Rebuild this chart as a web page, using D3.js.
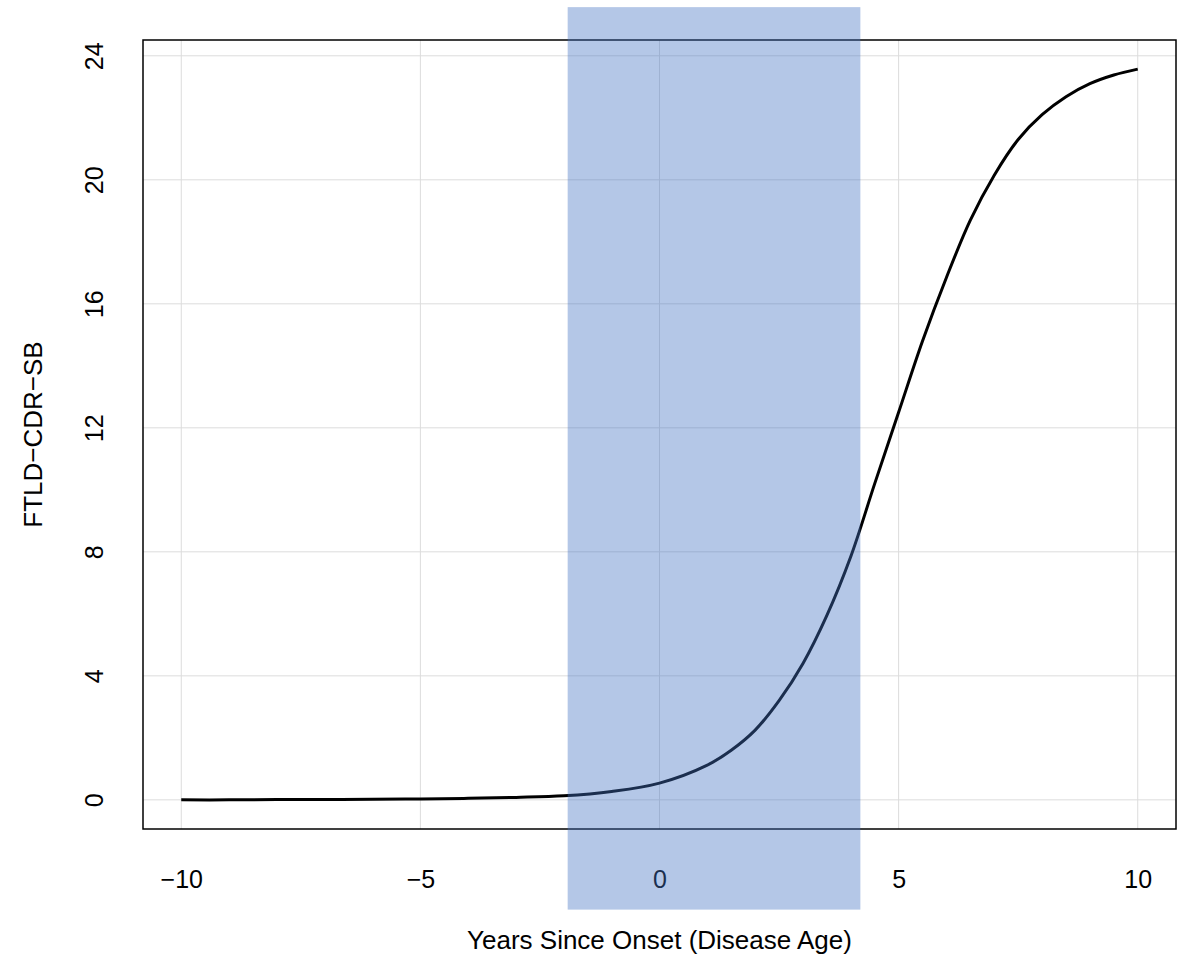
<!DOCTYPE html>
<html>
<head>
<meta charset="utf-8">
<script src="https://cdn.jsdelivr.net/npm/d3@7"></script>
<style>
  html, body { margin: 0; padding: 0; background: #fff; }
  svg { display: block; font-family: "Liberation Sans", Arial, sans-serif; }
</style>
</head>
<body>
<div id="chart"></div>
<script>
// disease age (years) and estimated FTLD-CDR-SB curve
const years = [-10, -9, -8, -7, -6, -5, -4, -3, -2, -1, 0, 1, 1.5, 2, 2.5, 3, 3.5, 4, 4.5, 5, 5.5, 6, 6.5, 7, 7.5, 8, 8.5, 9, 9.5, 10];
const scores = [0, 0, 0.01, 0.01, 0.02, 0.03, 0.05, 0.08, 0.13, 0.27, 0.54, 1.12, 1.6, 2.25, 3.2, 4.4, 5.95, 7.85, 10.2, 12.5, 14.8, 16.85, 18.7, 20.15, 21.3, 22.1, 22.68, 23.1, 23.38, 23.57];
const xTicks = [-10, -5, 0, 5, 10];
const yTicks = [0, 4, 8, 12, 16, 20, 24];
// shaded band (data units, drawn past the plot box)
const bandX = [-1.92, 4.2];
const bandY = [-3.54, 25.57];

const W = 1189, H = 956;
const box = { left: 143, right: 1176, top: 40, bottom: 829 };

const x = d3.scaleLinear().domain([-10.8, 10.8]).range([box.left, box.right]);
const y = d3.scaleLinear().domain([-0.94, 24.51]).range([box.bottom, box.top]);

const svg = d3.select("#chart").append("svg")
  .attr("width", W)
  .attr("height", H);

const grid = svg.append("g");
grid.selectAll("line.vx")
  .data(xTicks)
  .enter().append("line")
  .attr("x1", d => x(d)).attr("x2", d => x(d))
  .attr("y1", box.top).attr("y2", box.bottom)
  .attr("stroke", "#dcdcdc").attr("stroke-width", 1);
grid.selectAll("line.hy")
  .data(yTicks)
  .enter().append("line")
  .attr("x1", box.left).attr("x2", box.right)
  .attr("y1", d => y(d)).attr("y2", d => y(d))
  .attr("stroke", "#dcdcdc").attr("stroke-width", 1);

const pts = years.map((t, i) => ({ t, v: scores[i] }));

svg.append("path")
  .datum(pts)
  .attr("d", d3.line().x(d => x(d.t)).y(d => y(d.v)).curve(d3.curveCatmullRom.alpha(0.5)))
  .attr("fill", "none")
  .attr("stroke", "#000")
  .attr("stroke-width", 3);

svg.append("rect")
  .attr("x", box.left).attr("y", box.top)
  .attr("width", box.right - box.left).attr("height", box.bottom - box.top)
  .attr("fill", "none").attr("stroke", "#000").attr("stroke-width", 1.5);

// axes without tick marks
const xAxis = svg.append("g")
  .attr("transform", `translate(0,${box.bottom})`)
  .call(d3.axisBottom(x).tickValues(xTicks).tickSize(0).tickPadding(41)
    .tickFormat(d => d < 0 ? "\u2212" + Math.abs(d) : d));
xAxis.select(".domain").remove();
xAxis.selectAll("text").attr("font-size", 25).attr("fill", "#000")
  .attr("font-family", "Liberation Sans, Arial, sans-serif");

const yAxis = svg.append("g")
  .attr("transform", `translate(${box.left},0)`)
  .call(d3.axisLeft(y).tickValues(yTicks).tickSize(0));
yAxis.select(".domain").remove();
yAxis.selectAll("text")
  .attr("x", null).attr("dy", null)
  .attr("text-anchor", "middle")
  .attr("font-size", 25).attr("fill", "#000")
  .attr("font-family", "Liberation Sans, Arial, sans-serif")
  .attr("transform", "translate(-40,0) rotate(-90)")
  .attr("y", 0);

svg.append("text")
  .attr("x", x(0))
  .attr("y", 949)
  .attr("text-anchor", "middle")
  .attr("font-size", 26)
  .text("Years Since Onset (Disease Age)");

svg.append("text")
  .attr("transform", `translate(42,${(box.top + box.bottom) / 2}) rotate(-90)`)
  .attr("text-anchor", "middle")
  .attr("font-size", 26)
  .text("FTLD\u2212CDR\u2212SB");

svg.append("rect")
  .attr("x", x(bandX[0]))
  .attr("width", x(bandX[1]) - x(bandX[0]))
  .attr("y", y(bandY[1]))
  .attr("height", y(bandY[0]) - y(bandY[1]))
  .attr("fill", "#4472C4")
  .attr("fill-opacity", 0.4);
</script>
</body>
</html>
